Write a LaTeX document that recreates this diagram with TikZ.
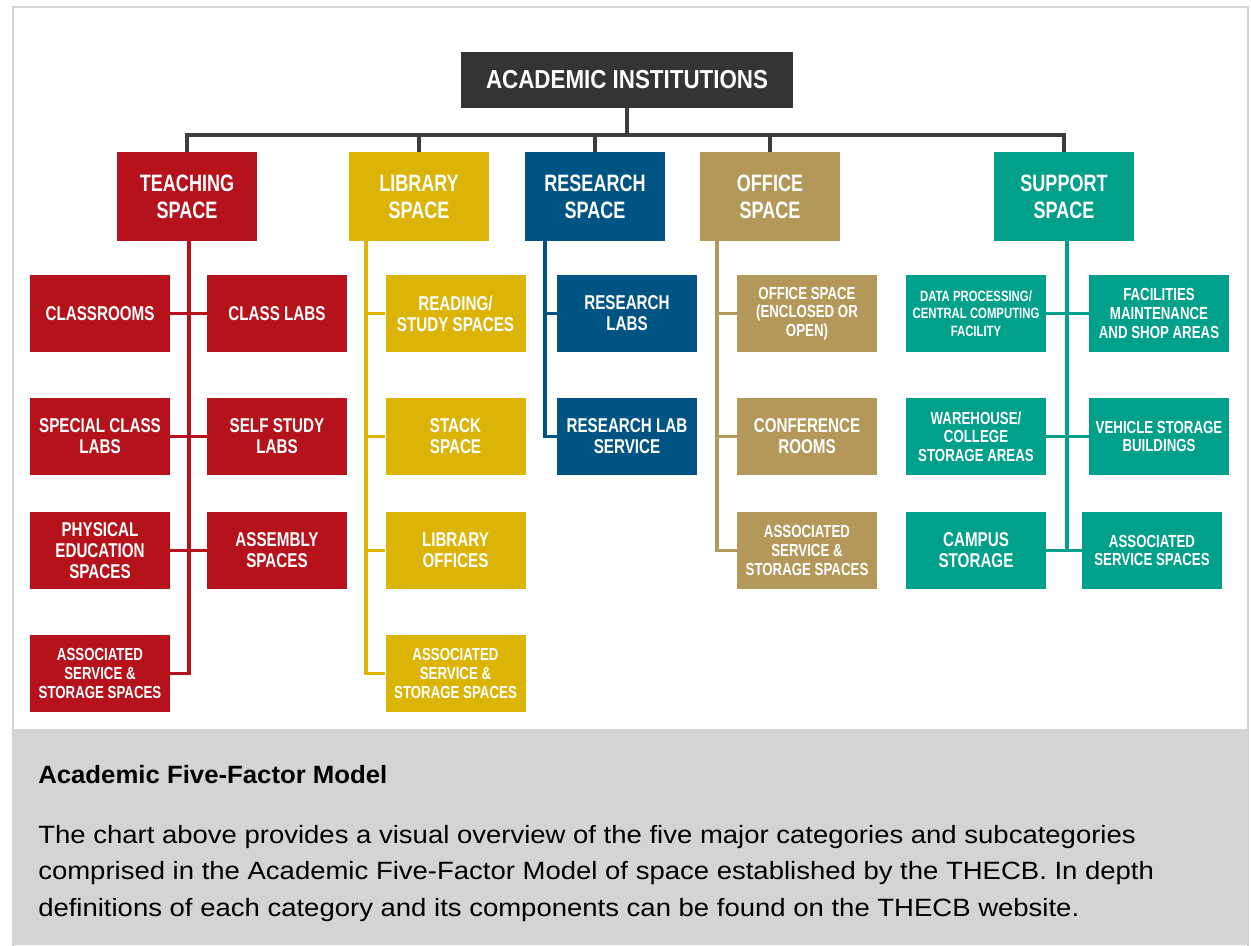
\documentclass[tikz,border=0pt]{standalone}
\usepackage{fontspec}
\setmainfont{Liberation Sans}
\newfontfamily\condf[FakeStretch=0.76]{Liberation Sans}
\newfontfamily\rootff[FakeStretch=0.86]{Liberation Sans}
\newfontfamily\bodyf[FakeStretch=1.1]{Liberation Sans}
\newfontfamily\headf[FakeStretch=1.03]{Liberation Sans}
\definecolor{rootc}{HTML}{363432}
\definecolor{linec}{HTML}{3D3D3D}
\definecolor{redc}{HTML}{B5121B}
\definecolor{yelc}{HTML}{DCB406}
\definecolor{bluc}{HTML}{005483}
\definecolor{tanc}{HTML}{B3985A}
\definecolor{tealc}{HTML}{00A08A}
\definecolor{framec}{HTML}{D3D4D6}
\tikzset{
  rootbox/.style={rectangle, fill=rootc, text=white, minimum width=249pt, minimum height=42pt, inner sep=0pt,
    font=\rootff\bfseries\fontsize{19.5pt}{21pt}\selectfont},
  catbox/.style={rectangle, text=white, minimum width=105pt, minimum height=66.75pt, inner sep=0pt, align=center,
    font=\condf\bfseries\fontsize{17.8pt}{20.25pt}\selectfont},
  subbox/.style={rectangle, text=white, minimum width=105pt, minimum height=57.75pt, inner sep=0pt, align=center,
    font=\condf\bfseries\fontsize{15pt}{15.75pt}\selectfont},
  smalltxt/.style={font=\condf\bfseries\fontsize{13.1pt}{13.9pt}\selectfont},
  tinytxt/.style={font=\condf\bfseries\fontsize{11.2pt}{13.1pt}\selectfont},
  gline/.style={draw=linec, line width=3pt},
  cline/.style={line width=2.8pt},
}
\begin{document}
\begin{tikzpicture}[x=0.75pt,y=-0.75pt]
\useasboundingbox (0,0) rectangle (1251,945);
\fill[white] (0,0) rectangle (1251,945);
\fill[framec] (12,729) rectangle (1249,945);
\draw[framec, line width=1.5pt] (13,7) rectangle (1248,950);

% root and categories
\node[rootbox] (root) at (627,80) {ACADEMIC INSTITUTIONS};
\node[catbox, fill=redc] (teach) at (187,196.5) {TEACHING\\SPACE};
\node[catbox, fill=yelc] (lib) at (419,196.5) {LIBRARY\\SPACE};
\node[catbox, fill=bluc] (res) at (595,196.5) {RESEARCH\\SPACE};
\node[catbox, fill=tanc] (off) at (770,196.5) {OFFICE\\SPACE};
\node[catbox, fill=tealc] (sup) at (1064,196.5) {SUPPORT\\SPACE};

\coordinate (hb) at (627,135);
\draw[gline] (root.south) -- (hb);
\draw[gline] (teach.north) |- (hb) -| (sup.north);
\draw[gline] (lib.north) -- (lib.north |- hb);
\draw[gline] (res.north) -- (res.north |- hb);
\draw[gline] (off.north) -- (off.north |- hb);

% teaching
\node[subbox, fill=redc] (t1) at (100,313.5) {CLASSROOMS};
\node[subbox, fill=redc] (t2) at (277,313.5) {CLASS LABS};
\node[subbox, fill=redc] (t3) at (100,436.5) {SPECIAL CLASS\\LABS};
\node[subbox, fill=redc] (t4) at (277,436.5) {SELF STUDY\\LABS};
\node[subbox, fill=redc] (t5) at (100,550.5) {PHYSICAL\\EDUCATION\\SPACES};
\node[subbox, fill=redc] (t6) at (277,550.5) {ASSEMBLY\\SPACES};
\node[subbox, smalltxt, fill=redc] (t7) at (100,673.5) {ASSOCIATED\\SERVICE \&\\STORAGE SPACES};
\coordinate (tv) at (189,241);
\draw[cline, redc] (tv) |- (t7.east);
\draw[cline, redc] (t1.east) -- (t2.west);
\draw[cline, redc] (t3.east) -- (t4.west);
\draw[cline, redc] (t5.east) -- (t6.west);

% library
\node[subbox, fill=yelc] (l1) at (455.5,313.5) {READING/\\STUDY SPACES};
\node[subbox, fill=yelc] (l2) at (455.5,436.5) {STACK\\SPACE};
\node[subbox, fill=yelc] (l3) at (455.5,550.5) {LIBRARY\\OFFICES};
\node[subbox, smalltxt, fill=yelc] (l4) at (455.5,673.5) {ASSOCIATED\\SERVICE \&\\STORAGE SPACES};
\coordinate (lv) at (366,241);
\draw[cline, yelc] (lv) |- (l4.west);
\draw[cline, yelc] (lv |- l1.west) -- (l1.west);
\draw[cline, yelc] (lv |- l2.west) -- (l2.west);
\draw[cline, yelc] (lv |- l3.west) -- (l3.west);

% research
\node[subbox, fill=bluc] (r1) at (627,313.5) {RESEARCH\\LABS};
\node[subbox, fill=bluc] (r2) at (627,436.5) {RESEARCH LAB\\SERVICE};
\coordinate (rv) at (545,241);
\draw[cline, bluc] (rv) |- (r2.west);
\draw[cline, bluc] (rv |- r1.west) -- (r1.west);

% office
\node[subbox, smalltxt, fill=tanc] (o1) at (807,313.5) {OFFICE SPACE\\(ENCLOSED OR\\OPEN)};
\node[subbox, fill=tanc] (o2) at (807,436.5) {CONFERENCE\\ROOMS};
\node[subbox, smalltxt, fill=tanc] (o3) at (807,550.5) {ASSOCIATED\\SERVICE \&\\STORAGE SPACES};
\coordinate (ov) at (717,241);
\draw[cline, tanc] (ov) |- (o3.west);
\draw[cline, tanc] (ov |- o1.west) -- (o1.west);
\draw[cline, tanc] (ov |- o2.west) -- (o2.west);

% support
\node[subbox, tinytxt, fill=tealc] (s1) at (976,313.5) {DATA PROCESSING/\\CENTRAL COMPUTING\\FACILITY};
\node[subbox, smalltxt, fill=tealc] (s2) at (1159,313.5) {FACILITIES\\MAINTENANCE\\AND SHOP AREAS};
\node[subbox, smalltxt, fill=tealc] (s3) at (976,436.5) {WAREHOUSE/\\COLLEGE\\STORAGE AREAS};
\node[subbox, smalltxt, fill=tealc] (s4) at (1159,436.5) {VEHICLE STORAGE\\BUILDINGS};
\node[subbox, fill=tealc] (s5) at (976,550.5) {CAMPUS\\STORAGE};
\node[subbox, smalltxt, fill=tealc] (s6) at (1152,550.5) {ASSOCIATED\\SERVICE SPACES};
\coordinate (sv) at (1067,241);
\draw[cline, tealc] (sv) -- (sv |- s5.east);
\draw[cline, tealc] (s1.east) -- (s2.west);
\draw[cline, tealc] (s3.east) -- (s4.west);
\draw[cline, tealc] (s5.east) -- (s6.west);

% caption
\node[anchor=base west, inner sep=0pt, font=\headf\bfseries\fontsize{18.75pt}{20pt}\selectfont] (cap) at (38,783) {Academic Five-Factor Model};
\node[anchor=north west, inner sep=0pt, align=left, font=\bodyf\fontsize{18.75pt}{27.3pt}\selectfont] (body) at (38,825)
 {The chart above provides a visual overview of the five major categories and subcategories\\
  comprised in the Academic Five-Factor Model of space established by the THECB. In depth\\
  definitions of each category and its components can be found on the THECB website.};
\end{tikzpicture}
\end{document}
